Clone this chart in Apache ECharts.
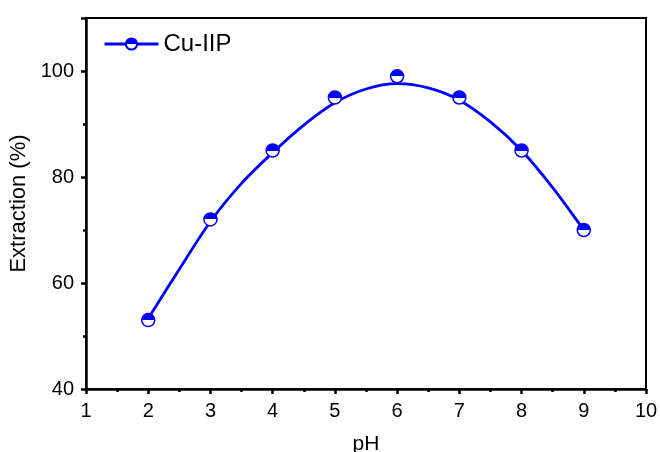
<!DOCTYPE html>
<html>
<head>
<meta charset="utf-8">
<script src="https://cdn.jsdelivr.net/npm/echarts@6/dist/echarts.min.js"></script>
<style>html,body{margin:0;padding:0;background:#fff}#c{width:660px;height:452px}</style>
</head>
<body>
<div id="c"></div>
<script>
// Measured data points (pH vs extraction %)
var phValues = [2, 3, 4, 5, 6, 7, 8, 9];
var extraction = [53, 72, 85, 95, 99, 95, 85, 70];
// Fitted curve
var fitPh = [2, 2.5, 3, 3.5, 4, 4.5, 5, 5.5, 6, 6.5, 7, 7.5, 8, 8.5, 9];
var fitValues = [53.3, 62.6, 71.6, 78.8, 84.6, 89.8, 94.0, 96.6, 97.6, 96.8, 94.5, 90.4, 85.0, 78.0, 70.0];
var xTicks = [1, 2, 3, 4, 5, 6, 7, 8, 9, 10];
var yTicks = [40, 60, 80, 100];
var seriesName = 'Cu-IIP';

var BLUE = '#0000ff';
var halfFill = {
  type: 'linear', x: 0, y: 0, x2: 0, y2: 1,
  colorStops: [
    {offset: 0, color: BLUE}, {offset: 0.5, color: BLUE},
    {offset: 0.5, color: '#ffffff'}, {offset: 1, color: '#ffffff'}
  ]
};
var font = 'Liberation Sans, Arial, Helvetica, sans-serif';

var chart = echarts.init(document.getElementById('c'), null, {renderer: 'canvas'});
chart.setOption({
  animation: false,
  backgroundColor: '#fff',
  textStyle: {fontFamily: font, color: '#000'},
  grid: {left: 86, right: 14, top: 18, bottom: 63, containLabel: false, outerBoundsMode: 'none',
    show: true, borderColor: '#000', borderWidth: 2, backgroundColor: 'transparent'},
  legend: {
    left: 98, top: 27,
    itemWidth: 54, itemHeight: 14, itemGap: 10,
    textStyle: {fontSize: 24, color: '#000', fontFamily: font},
    data: [{name: seriesName, lineStyle: {width: 3, color: BLUE, opacity: 1, type: 'solid'}}]
  },
  xAxis: {
    type: 'value', min: xTicks[0], max: xTicks[xTicks.length - 1], interval: 1,
    name: 'pH', nameLocation: 'middle', nameGap: 45,
    nameTextStyle: {fontSize: 21, color: '#000', fontFamily: font},
    axisLine: {show: true, lineStyle: {color: '#000', width: 2.5}},
    axisTick: {show: true, length: 5, lineStyle: {color: '#000', width: 2.5}},
    minorTick: {show: true, splitNumber: 2, length: 3, lineStyle: {color: '#000', width: 2.5}},
    axisLabel: {fontSize: 20, color: '#000', margin: 12, fontFamily: font},
    splitLine: {show: false}
  },
  yAxis: {
    type: 'value', min: 40, max: 110, interval: 20,
    name: 'Extraction (%)', nameLocation: 'middle', nameGap: 47, nameRotate: 90,
    nameTextStyle: {fontSize: 22, color: '#000', fontFamily: font},
    axisLine: {show: true, lineStyle: {color: '#000', width: 2.5}},
    axisTick: {show: true, length: 5, lineStyle: {color: '#000', width: 2.5}},
    minorTick: {show: true, splitNumber: 2, length: 3, lineStyle: {color: '#000', width: 2.5}},
    axisLabel: {fontSize: 20, color: '#000', margin: 12, fontFamily: font,
      formatter: function (v) { return yTicks.indexOf(v) >= 0 ? String(v) : ''; }},
    splitLine: {show: false}
  },
  series: [
    {
      name: 'fit', type: 'line', smooth: 0.3, symbol: 'none', z: 2,
      lineStyle: {color: BLUE, width: 2.8},
      data: fitPh.map(function (p, i) { return [p, fitValues[i]]; })
    },
    {
      name: seriesName, type: 'line', symbol: 'circle', symbolSize: 13, z: 3,
      lineStyle: {width: 0, opacity: 0, color: BLUE},
      itemStyle: {color: halfFill, borderColor: BLUE, borderWidth: 1.5},
      data: phValues.map(function (p, i) { return [p, extraction[i]]; })
    }
  ]
});
</script>
</body>
</html>
